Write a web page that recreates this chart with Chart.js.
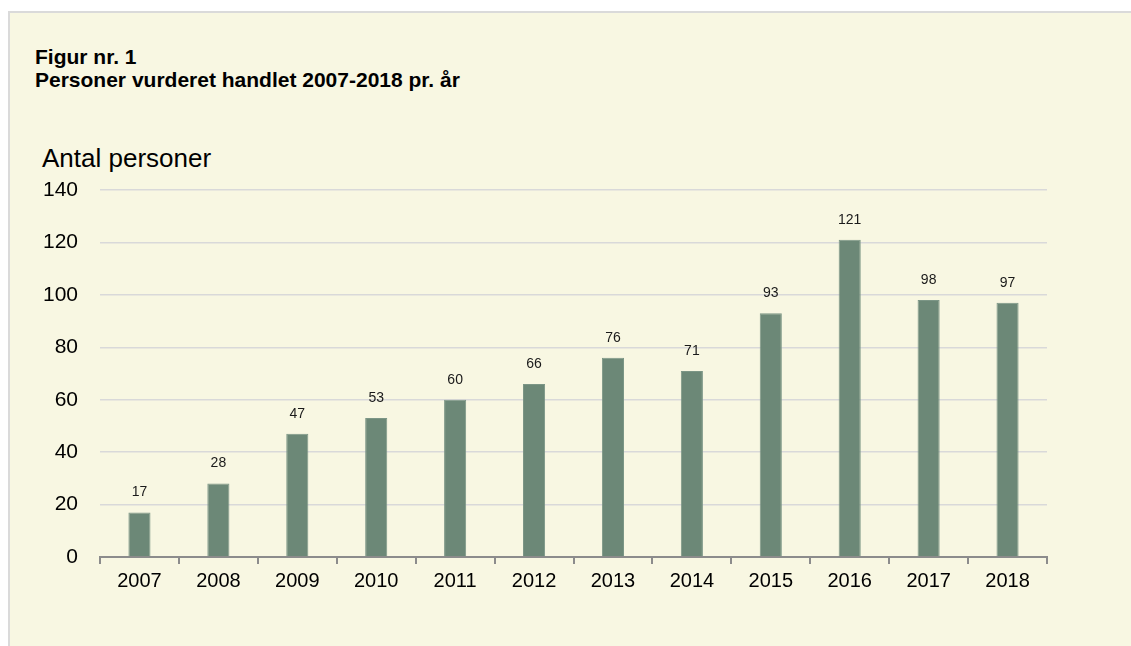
<!DOCTYPE html>
<html>
<head>
<meta charset="utf-8">
<script src="https://cdn.jsdelivr.net/npm/chart.js@4.4.0/dist/chart.umd.min.js"></script>
<style>
	html, body { margin: 0; padding: 0; background: #fff; }
	body { width: 1131px; height: 646px; position: relative; overflow: hidden; font-family: "Liberation Sans", Arial, sans-serif; }
	#panel { position: absolute; left: 8px; top: 11px; right: 0; bottom: 0; background: #f8f7e2; border-left: 2px solid #dadada; border-top: 2px solid #dadada; }
	#title { position: absolute; left: 35px; top: 45px; font-weight: bold; font-size: 21px; line-height: 23px; color: #000; }
	#ylabel { position: absolute; left: 42px; top: 143px; font-size: 26px; color: #000; }
	#wrap { position: absolute; left: 0; top: 0; width: 1131px; height: 646px; }
</style>
</head>
<body>
<div id="panel"></div>
<div id="title">Figur nr. 1<br>Personer vurderet handlet 2007-2018 pr. år</div>
<div id="ylabel">Antal personer</div>
<div id="wrap"><canvas id="chart" width="1131" height="646"></canvas></div>
<script>
const years = ['2007', '2008', '2009', '2010', '2011', '2012', '2013', '2014', '2015', '2016', '2017', '2018'];
const persons = [17, 28, 47, 53, 60, 66, 76, 71, 93, 121, 98, 97];
const yTicks = [0, 20, 40, 60, 80, 100, 120, 140];

// small plugin for the numbers above the bars
const valueLabels = {
	id: 'valueLabels',
	afterDatasetsDraw(chart) {
		const ctx = chart.ctx;
		const meta = chart.getDatasetMeta(0);
		ctx.save();
		ctx.font = '14px "Liberation Sans", Arial, sans-serif';
		ctx.fillStyle = '#1a1a1a';
		ctx.textAlign = 'center';
		ctx.textBaseline = 'bottom';
		meta.data.forEach((bar, i) => {
			ctx.fillText(persons[i], bar.x, bar.y - 13);
		});
		ctx.restore();
	}
};

new Chart(document.getElementById('chart').getContext('2d'), {
	type: 'bar',
	data: {
		labels: years,
		datasets: [{
			data: persons,
			backgroundColor: '#6c8877',
			borderColor: '#7c9686',
			borderWidth: 1,
			categoryPercentage: 1,
			barPercentage: 0.28,
		}]
	},
	options: {
		responsive: false,
		animation: false,
		layout: { padding: { left: 30, right: 84, top: 190, bottom: 0 } },
		plugins: { legend: { display: false }, tooltip: { enabled: false } },
		scales: {
			x: {
				afterFit: s => { s.height = 89; },
				grid: { offset: true, drawOnChartArea: false, tickLength: 7, color: '#8c8c8c', lineWidth: 2 },
				border: { color: '#8c8c8c', width: 2 },
				ticks: { color: '#000', padding: 5, font: { size: 20, family: '"Liberation Sans", Arial, sans-serif' } }
			},
			y: {
				min: 0,
				max: 140,
				afterFit: s => { s.width = 70; },
				afterBuildTicks: s => { s.ticks = yTicks.map(v => ({ value: v })); },
				grid: { drawTicks: false, color: '#d9d9d9', lineWidth: 1.5 },
				border: { display: false },
				ticks: { color: '#000', padding: 22, font: { size: 21, family: '"Liberation Sans", Arial, sans-serif' } }
			}
		}
	},
	plugins: [valueLabels]
});
</script>
</body>
</html>
